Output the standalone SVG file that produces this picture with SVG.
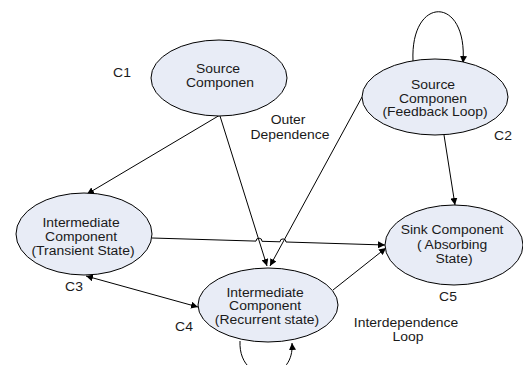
<svg xmlns="http://www.w3.org/2000/svg" width="523" height="365" viewBox="0 0 523 365">
  <style>
    .node { fill: #e8ecf6; stroke: #000; stroke-width: 1; }
    .lbl { font-family: "Liberation Sans", Arial, sans-serif; font-size: 12px; fill: #1a1a1a; text-anchor: middle; }
    .edge { fill: none; stroke: #000; stroke-width: 1; }
  </style>
  <defs>
    <marker id="arrow" viewBox="0 0 10 10" refX="10" refY="5" markerWidth="7" markerHeight="7" markerUnits="userSpaceOnUse" orient="auto-start-reverse">
      <path d="M0,0 L10,5 L0,10 Z" fill="#000"/>
    </marker>
  </defs>

  <rect width="523" height="365" fill="#fff"/>

  <!-- connectors -->
  <g id="connectors">
    <path class="edge" d="M220,115 L87,194" marker-end="url(#arrow)"/>
    <path class="edge" d="M220,116 L267,266" marker-end="url(#arrow)"/>
    <path class="edge" d="M362,97 L270,266" marker-end="url(#arrow)"/>
    <path class="edge" d="M152,238 L256,241.1 A3,3 0 0 1 262,241.3 L280,241.8 A3,3 0 0 1 286,242 L385,245" marker-end="url(#arrow)"/>
    <path class="edge" d="M86,276 L198,307" marker-start="url(#arrow)" marker-end="url(#arrow)"/>
    <path class="edge" d="M333,290 L386,248" marker-end="url(#arrow)"/>
    <path class="edge" d="M444,135 L455,205" marker-end="url(#arrow)"/>
    <path class="edge" d="M413,61 C410,-5 468,-5 463,63" marker-end="url(#arrow)"/>
    <path class="edge" d="M240,341 C238,385 295,385 292,343" marker-end="url(#arrow)"/>
  </g>

  <!-- C1: source component -->
  <g id="c1">
    <ellipse class="node" cx="219" cy="78" rx="68" ry="38"/>
    <text class="lbl" transform="translate(220 0) scale(1.16 1)">
      <tspan x="0" y="73">Source</tspan>
      <tspan x="0" y="87">Componen</tspan>
    </text>
    <text class="lbl" transform="translate(122 0) scale(1.16 1)" x="0" y="77">C1</text>
  </g>

  <!-- C2: source component with feedback loop -->
  <g id="c2">
    <ellipse class="node" cx="435" cy="97" rx="73" ry="38"/>
    <text class="lbl" transform="translate(435 0) scale(1.16 1)">
      <tspan x="0" y="89">Source</tspan>
      <tspan x="0" y="103">Componen</tspan>
      <tspan x="0" y="116">(Feedback Loop)</tspan>
    </text>
    <text class="lbl" transform="translate(503 0) scale(1.16 1)" x="0" y="140">C2</text>
  </g>

  <!-- C3: transient intermediate component -->
  <g id="c3">
    <ellipse class="node" cx="84" cy="234" rx="68" ry="41"/>
    <text class="lbl" transform="translate(83 0) scale(1.16 1)">
      <tspan x="0" y="227">Intermediate</tspan>
      <tspan x="0" y="241">Component</tspan>
      <tspan x="0" y="255">(Transient State)</tspan>
    </text>
    <text class="lbl" transform="translate(74 0) scale(1.16 1)" x="0" y="291">C3</text>
  </g>

  <!-- C4: recurrent intermediate component -->
  <g id="c4">
    <ellipse class="node" cx="268" cy="305" rx="70" ry="37"/>
    <text class="lbl" transform="translate(267 0) scale(1.16 1)">
      <tspan x="0" y="297">Intermediate</tspan>
      <tspan x="0" y="310">Component</tspan>
      <tspan x="0" y="324">(Recurrent state)</tspan>
    </text>
    <text class="lbl" transform="translate(184 0) scale(1.16 1)" x="0" y="331">C4</text>
  </g>

  <!-- C5: sink component -->
  <g id="c5">
    <ellipse class="node" cx="454" cy="245" rx="69" ry="40"/>
    <text class="lbl" transform="translate(454 0) scale(1.16 1)">
      <tspan x="0" y="234">Sink Component</tspan>
      <tspan x="0" y="249">( Absorbing</tspan>
      <tspan x="0" y="263">State)</tspan>
    </text>
    <text class="lbl" transform="translate(448 0) scale(1.16 1)" x="0" y="301">C5</text>
  </g>

  <!-- free annotations -->
  <g id="notes">
    <text class="lbl" transform="translate(290 0) scale(1.16 1)">
      <tspan x="0" y="124">Outer</tspan>
      <tspan x="0" y="139">Dependence</tspan>
    </text>
    <text class="lbl" transform="translate(408 0) scale(1.16 1)">
      <tspan x="0" y="327">Interdependence</tspan>
      <tspan x="0" y="341">Loop</tspan>
    </text>
  </g>
</svg>
